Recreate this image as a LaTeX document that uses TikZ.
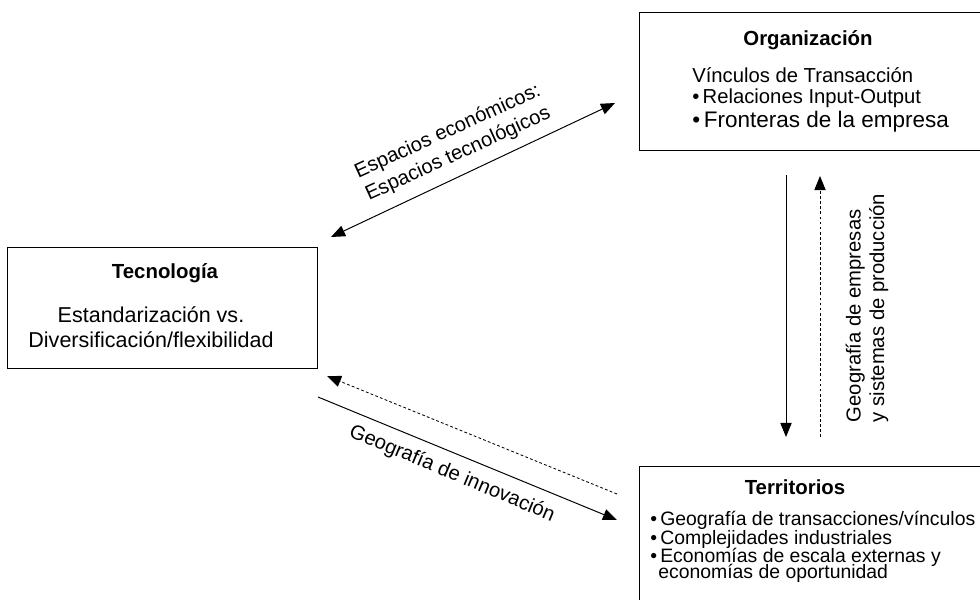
\documentclass[tikz,border=0pt]{standalone}
\usepackage{fontspec}
\setmainfont{Liberation Sans}
\usetikzlibrary{arrows.meta}

\tikzset{
  >={Triangle[length=10pt,width=8pt]},
  caja/.style={rectangle,draw,line width=0.7pt,inner sep=0pt},
  titulo/.style={inner sep=0pt,font=\bfseries\fontsize{14.5}{17}\selectfont},
  texto/.style={inner sep=0pt,font=\fontsize{14.4}{17}\selectfont},
  chico/.style={inner sep=0pt,font=\fontsize{13.8}{15}\selectfont},
  grande/.style={inner sep=0pt,font=\fontsize{16}{19}\selectfont},
  punteado/.style={line width=0.6pt,dash pattern=on 2pt off 1.6pt},
  linea/.style={line width=0.7pt}
}

\begin{document}
\begin{tikzpicture}[x=0.025cm,y=-0.025cm]
\useasboundingbox (0,0) rectangle (980,599);

% cajas
\path (815,81.5) node[caja,minimum width=8.75cm,minimum height=3.425cm] (org) {};
\path (162.5,308) node[caja,minimum width=7.725cm,minimum height=3cm] (tec) {};
\path (815,538.5) node[caja,minimum width=8.75cm,minimum height=3.575cm] (ter) {};

% Organizacion
\path (808,40) node[titulo] (orgT) {Organización};
\path (692,75) node[texto,anchor=west] (org1) {Vínculos de Transacción};
\path (692,98) node[texto,anchor=west] (org2) {•\,Relaciones Input-Output};
\path (692,122) node[grande,anchor=west] (org3) {•\,Fronteras de la empresa};

% Tecnologia
\path (165,273) node[titulo] (tecT) {Tecnología};
\path (151,327) node[align=center,inner sep=0pt,font=\fontsize{15.3}{17.8}\selectfont] (tec1)
  {Estandarización vs.\\Diversificación/flexibilidad};

% Territorios
\path (795,487) node[titulo] (terT) {Territorios};
\path (650,520) node[chico,anchor=west] (ter1) {•\,Geografía de transacciones/vínculos};
\path (650,539) node[chico,anchor=west] (ter2) {•\,Complejidades industriales};
\path (650,557) node[chico,anchor=west] (ter3) {•\,Economías de escala externas y};
\path (658,573) node[chico,anchor=west] (ter4) {economías de oportunidad};

% extremos de los conectores
\coordinate (espA) at (331,237);
\coordinate (espB) at (615,103);
\coordinate (verA) at (786,175);
\coordinate (verB) at (786,437);
\coordinate (verC) at (820,437);
\coordinate (verD) at (820,176);
\coordinate (innA) at (318,397);
\coordinate (innB) at (617,520);
\coordinate (innC) at (617,494);
\coordinate (innD) at (327,376);

\draw[linea,<->] (espA) -- (espB);
\draw[linea,->] (verA) -- (verB);
\draw[punteado,->] (verC) -- (verD);
\draw[linea,->] (innA) -- (innB);
\draw[punteado,->] (innC) -- (innD);

% etiquetas
\path (453,143) node[texto,rotate=24.5,align=center,font=\fontsize{14.4}{17.6}\selectfont] (espL)
  {Espacios económicos:\\Espacios tecnológicos};
\path (867,308) node[texto,rotate=90,align=left,font=\fontsize{14.4}{16.6}\selectfont] (verL)
  {Geografía de empresas\\y sistemas de producción};
\path (452,474) node[texto,rotate=-22.8] (innL) {Geografía de innovación};
\end{tikzpicture}
\end{document}
